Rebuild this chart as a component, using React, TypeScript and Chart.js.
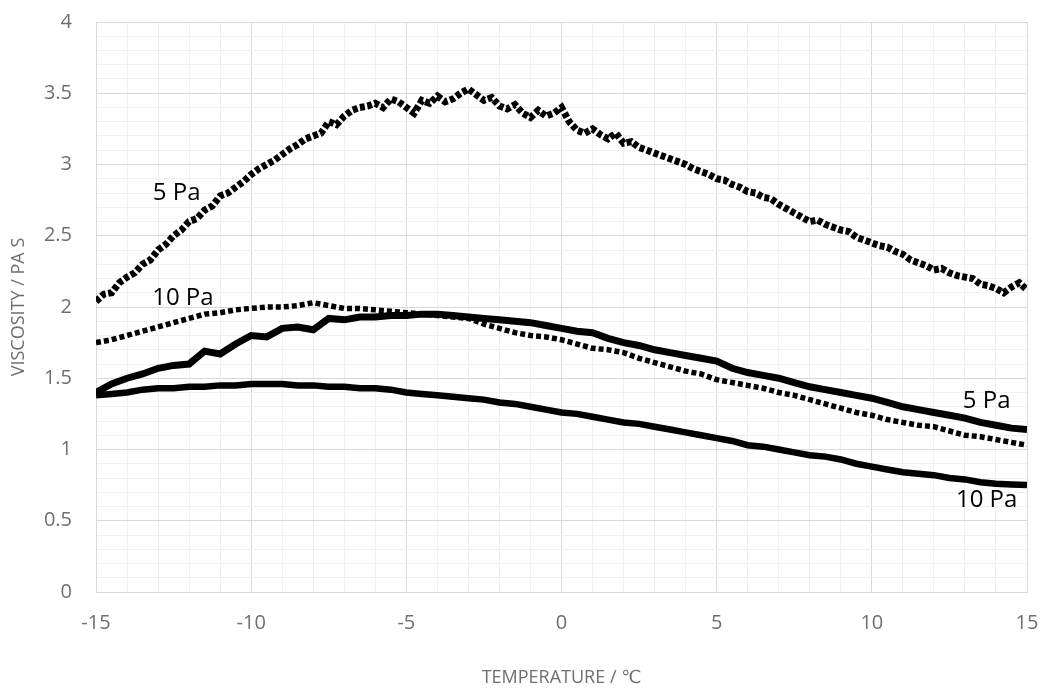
import React, { useEffect, useRef } from "react";
import { Chart, registerables } from "chart.js";

Chart.register(...registerables);

// Sampling grids for temperature (°C)
const TEMP_QUARTER: number[] = Array.from({ length: 121 }, (_, i) => -15 + i * 0.25);
const TEMP_HALF: number[] = Array.from({ length: 61 }, (_, i) => -15 + i * 0.5);

// 5 Pa, dotted (upper curve) – sampled every 0.25 °C
const VISC_5PA_DOTTED: number[] = [
  2.04, 2.09, 2.10, 2.17, 2.21, 2.24, 2.30, 2.33, 2.40, 2.44, 2.50, 2.54, 2.60, 2.62, 2.68, 2.71, 2.78, 2.80, 2.84, 2.88,
  2.93, 2.97, 3.00, 3.03, 3.07, 3.11, 3.14, 3.18, 3.20, 3.22, 3.30, 3.28, 3.34, 3.38, 3.40, 3.41, 3.43, 3.40, 3.46, 3.44,
  3.40, 3.36, 3.45, 3.43, 3.48, 3.44, 3.46, 3.50, 3.53, 3.49, 3.45, 3.47, 3.41, 3.39, 3.42, 3.36, 3.33, 3.38, 3.34, 3.36,
  3.40, 3.30, 3.24, 3.22, 3.25, 3.21, 3.18, 3.22, 3.15, 3.16, 3.12, 3.10, 3.08, 3.06, 3.04, 3.02, 3.00, 2.97, 2.95, 2.93,
  2.90, 2.89, 2.86, 2.84, 2.81, 2.80, 2.77, 2.76, 2.72, 2.69, 2.66, 2.63, 2.60, 2.61, 2.58, 2.56, 2.54, 2.53, 2.49, 2.47,
  2.45, 2.43, 2.42, 2.39, 2.37, 2.33, 2.31, 2.29, 2.26, 2.27, 2.24, 2.22, 2.21, 2.20, 2.16, 2.15, 2.13, 2.10, 2.14, 2.17,
  2.12,
];

// 10 Pa, dotted – every 0.5 °C
const VISC_10PA_DOTTED: number[] = [
  1.75, 1.77, 1.80, 1.83, 1.86, 1.89, 1.92, 1.95, 1.96, 1.98,
  1.99, 2.00, 2.00, 2.01, 2.03, 2.01, 1.99, 1.99, 1.98, 1.97,
  1.96, 1.95, 1.94, 1.93, 1.92, 1.88, 1.85, 1.82, 1.80, 1.79,
  1.77, 1.74, 1.71, 1.70, 1.68, 1.64, 1.61, 1.58, 1.55, 1.53,
  1.49, 1.47, 1.45, 1.43, 1.40, 1.38, 1.35, 1.32, 1.29, 1.26,
  1.24, 1.21, 1.19, 1.17, 1.16, 1.13, 1.10, 1.09, 1.07, 1.05,
  1.03,
];

// 5 Pa, solid – every 0.5 °C
const VISC_5PA_SOLID: number[] = [
  1.40, 1.46, 1.50, 1.53, 1.57, 1.59, 1.60, 1.69, 1.67, 1.74,
  1.80, 1.79, 1.85, 1.86, 1.84, 1.92, 1.91, 1.93, 1.93, 1.94,
  1.94, 1.95, 1.95, 1.94, 1.93, 1.92, 1.91, 1.90, 1.89, 1.87,
  1.85, 1.83, 1.82, 1.78, 1.75, 1.73, 1.70, 1.68, 1.66, 1.64,
  1.62, 1.57, 1.54, 1.52, 1.50, 1.47, 1.44, 1.42, 1.40, 1.38,
  1.36, 1.33, 1.30, 1.28, 1.26, 1.24, 1.22, 1.19, 1.17, 1.15,
  1.14,
];

// 10 Pa, solid – every 0.5 °C
const VISC_10PA_SOLID: number[] = [
  1.38, 1.39, 1.40, 1.42, 1.43, 1.43, 1.44, 1.44, 1.45, 1.45,
  1.46, 1.46, 1.46, 1.45, 1.45, 1.44, 1.44, 1.43, 1.43, 1.42,
  1.40, 1.39, 1.38, 1.37, 1.36, 1.35, 1.33, 1.32, 1.30, 1.28,
  1.26, 1.25, 1.23, 1.21, 1.19, 1.18, 1.16, 1.14, 1.12, 1.10,
  1.08, 1.06, 1.03, 1.02, 1.00, 0.98, 0.96, 0.95, 0.93, 0.90,
  0.88, 0.86, 0.84, 0.83, 0.82, 0.80, 0.79, 0.77, 0.76, 0.755,
  0.75,
];

// Text annotations
const ANNOTATION_TEXT: string[] = ["5 Pa", "10 Pa", "5 Pa", "10 Pa"];
const ANNOTATION_T: number[] = [-12.4, -12.2, 13.7, 13.7];
const ANNOTATION_V: number[] = [2.8, 2.06, 1.34, 0.645];

const X_TITLE = "TEMPERATURE / ℃";
const Y_TITLE = "VISCOSITY / PA S";

const FONT = "'Open Sans', 'DejaVu Sans', sans-serif";
const MAJOR = "#d9d9d9";
const MINOR = "#f0f0f0";
const TICK_COLOR = "#6f6f6f";

function pts(xs: number[], ys: number[]) {
  return ys.map((y, i) => ({ x: xs[i], y }));
}

const annotationPlugin = {
  id: "paLabels",
  afterDatasetsDraw(chart: any) {
    const { ctx, scales } = chart;
    ctx.save();
    ctx.fillStyle = "#000";
    ctx.font = `24px ${FONT}`;
    ctx.textAlign = "center";
    ctx.textBaseline = "middle";
    ANNOTATION_TEXT.forEach((t, i) => {
      ctx.fillText(t, scales.x.getPixelForValue(ANNOTATION_T[i]), scales.y.getPixelForValue(ANNOTATION_V[i]));
    });
    ctx.restore();
  },
};

export default function App() {
  const ref = useRef<HTMLCanvasElement>(null);
  useEffect(() => {
    if (!ref.current) return;
    const chart = new Chart(ref.current, {
      type: "line",
      data: {
        datasets: [
          {
            data: pts(TEMP_QUARTER, VISC_5PA_DOTTED),
            borderColor: "#000",
            borderWidth: 7,
            borderDash: [5, 2.5],
            pointRadius: 0,
            tension: 0,
          },
          {
            data: pts(TEMP_HALF, VISC_10PA_DOTTED),
            borderColor: "#000",
            borderWidth: 5.5,
            borderDash: [5, 3],
            pointRadius: 0,
            tension: 0,
          },
          {
            data: pts(TEMP_HALF, VISC_5PA_SOLID),
            borderColor: "#000",
            borderWidth: 7,
            pointRadius: 0,
            tension: 0,
          },
          {
            data: pts(TEMP_HALF, VISC_10PA_SOLID),
            borderColor: "#000",
            borderWidth: 6.5,
            pointRadius: 0,
            tension: 0,
          },
        ],
      },
      options: {
        animation: false,
        responsive: true,
        maintainAspectRatio: false,
        layout: { padding: { top: 22, right: 14, left: 0, bottom: 0 } },
        plugins: { legend: { display: false }, tooltip: { enabled: false } },
        scales: {
          x: {
            type: "linear",
            min: -15,
            max: 15,
            afterFit: (s: any) => {
              s.height = 105;
              s.paddingLeft = 0;
              s.paddingRight = 0;
            },
            ticks: {
              stepSize: 1,
              autoSkip: false,
              maxRotation: 0,
              padding: 19,
              color: TICK_COLOR,
              font: { family: FONT, size: 20 },
              callback: (v: any) => (Math.round(v) % 5 === 0 ? String(v) : ""),
            },
            grid: {
              drawTicks: false,
              color: (c: any) => (c.tick && Math.round(c.tick.value) % 5 === 0 ? MAJOR : MINOR),
            },
            border: { color: MAJOR },
            title: {
              display: true,
              text: X_TITLE,
              color: TICK_COLOR,
              font: { family: FONT, size: 18 },
              padding: { top: 0, bottom: 8 },
            },
          },
          y: {
            min: 0,
            max: 4,
            afterFit: (s: any) => {
              s.width = 96;
              s.paddingTop = 0;
              s.paddingBottom = 0;
            },
            ticks: {
              stepSize: 0.1,
              autoSkip: false,
              padding: 24,
              color: TICK_COLOR,
              font: { family: FONT, size: 20 },
              callback: (v: any) => {
                const r = Math.round(v * 10);
                return r % 5 === 0 ? String(r / 10) : "";
              },
            },
            grid: {
              drawTicks: false,
              color: (c: any) => (c.tick && Math.round(c.tick.value * 10) % 5 === 0 ? MAJOR : MINOR),
            },
            border: { color: MAJOR },
            title: {
              display: true,
              text: Y_TITLE,
              color: TICK_COLOR,
              font: { family: FONT, size: 18 },
              padding: { top: 8, bottom: 0 },
            },
          },
        },
      },
      plugins: [annotationPlugin],
    } as any);
    return () => chart.destroy();
  }, []);
  return (
    <div style={{ position: "absolute", left: 0, top: 0, width: 1041, height: 697, background: "#fff" }}>
      <canvas ref={ref} />
    </div>
  );
}
